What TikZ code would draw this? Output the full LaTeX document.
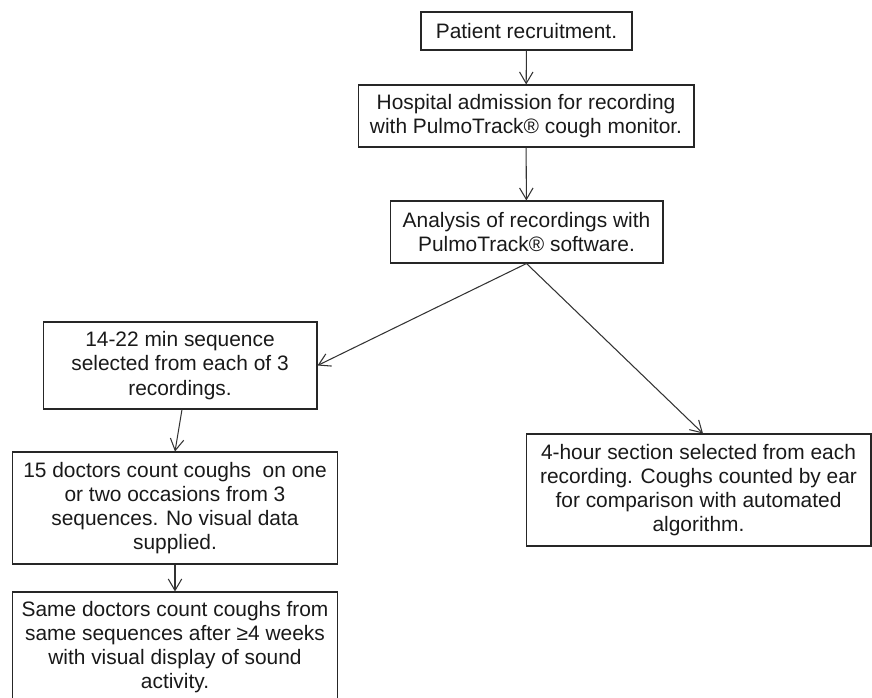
\documentclass[tikz,border=0pt]{standalone}
\usepackage{fontspec}
\setmainfont{Liberation Sans}
\usetikzlibrary{arrows.meta}
\tikzset{
  stepbox/.style={draw=black!85, line width=0.6pt, align=center, inner sep=0pt,
    text=black!90, font=\fontsize{11.9pt}{13.8pt}\selectfont},
  flow/.style={draw=black!80, line width=0.6pt, -{Straight Barb[length=2.3mm,width=2.7mm]}}
}
\begin{document}
\begin{tikzpicture}[x=0.02cm,y=-0.02cm]
                \clip (0,0) rectangle (872,697);
                \node[stepbox, minimum width=4.22cm, minimum height=0.76cm] (rec) at (526.5,31) {Patient recruitment.};
                \node[stepbox, minimum width=6.72cm, minimum height=1.24cm] (adm) at (526,116) {Hospital admission for recording\\with PulmoTrack® cough monitor.};
                \node[stepbox, minimum width=5.46cm, minimum height=1.24cm] (ana) at (526.5,232) {Analysis of recordings with\\PulmoTrack® software.};
                \node[stepbox, minimum width=5.48cm, minimum height=1.74cm] (seq) at (180,365.5) {14-22 min sequence\\selected from each of 3\\recordings.};
                \node[stepbox, minimum width=6.52cm, minimum height=2.24cm] (cnt) at (175,508) {15 doctors count coughs\ \ on one\\or two\ occasions from 3\\sequences. No visual data\\supplied.};
                \node[stepbox, minimum width=6.52cm, minimum height=2.2cm] (vis) at (175,647) {Same doctors count coughs from\\same sequences after ≥4 weeks\\with visual display of sound\\activity.};
                \node[stepbox, minimum width=6.9cm, minimum height=2.24cm] (ear) at (698.5,490) {4-hour section selected from each\\recording. Coughs counted by ear\\for comparison with automated\\algorithm.};
                \draw[flow] (rec) -- (adm);
                \draw[flow] (adm) -- (ana);
                \draw[flow] (ana.south) -- (seq.east);
                \draw[flow] (ana.south) -- ([xshift=0.09cm]ear.north);
                \draw[flow] ([xshift=0.04cm]seq.south) -- (cnt.north);
                \draw[flow] (cnt) -- (vis);
            \end{tikzpicture}
\end{document}
